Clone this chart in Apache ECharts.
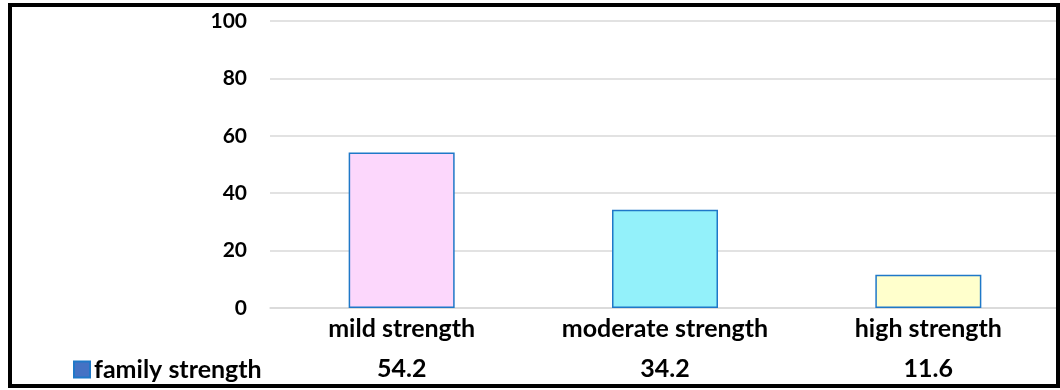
<!DOCTYPE html>
<html>
<head>
<meta charset="utf-8">
<script src="https://cdn.jsdelivr.net/npm/echarts@6/dist/echarts.min.js"></script>
<style>
html,body{margin:0;padding:0;background:#fff;}
#chart{width:1060px;height:390px;}
</style>
</head>
<body>
<div id="chart"></div>
<script>
const categories = ["mild strength", "moderate strength", "high strength"];
const seriesName = "family strength";
const values = [54.2, 34.2, 11.6];
const barColors = ["#FCD7FC", "#93F1FA", "#FFFFCC"];
const yTicks = [0, 20, 40, 60, 80, 100];

const FONT = "Lato";
const chart = echarts.init(document.getElementById('chart'));
chart.setOption({
  animation: false,
  backgroundColor: '#fff',
  textStyle: { fontFamily: FONT },
  grid: { left: 270, right: 0, top: 21, bottom: 82 },
  legend: {
    data: [seriesName],
    left: 73, top: 357, padding: 0,
    icon: 'rect', itemWidth: 16, itemHeight: 16, itemGap: 6,
    textStyle: { fontFamily: FONT, fontWeight: 'bold', fontSize: 25, color: '#000', padding: [0,0,0,-1] }
  },
  xAxis: [{
    type: 'category',
    data: categories,
    axisLine: { show: true, lineStyle: { color: '#d9d9d9', width: 1.5 } },
    axisTick: { show: false },
    axisLabel: { interval: 0, hideOverlap: false, fontFamily: FONT, fontWeight: 'bold', fontSize: 25, color: '#000', margin: 8 }
  }, {
    type: 'category',
    data: categories,
    position: 'bottom',
    offset: 40,
    axisLine: { show: false },
    axisTick: { show: false },
    axisLabel: {
      interval: 0, hideOverlap: false,
      fontFamily: FONT, fontWeight: 'bold', fontSize: 25, color: '#000', margin: 8,
      formatter: function (v, i) { return values[i].toFixed(1); }
    }
  }],
  yAxis: {
    type: 'value', min: yTicks[0], max: yTicks[yTicks.length - 1], interval: 20,
    axisLine: { show: false }, axisTick: { show: false },
    splitLine: { lineStyle: { color: '#d9d9d9', width: 1.5 } },
    axisLabel: { fontFamily: FONT, fontWeight: 'bold', fontSize: 21, color: '#000', margin: 23 }
  },
  series: [{
    name: seriesName,
    type: 'bar',
    xAxisIndex: 0,
    barWidth: 106,
    itemStyle: { color: '#4472C4', borderColor: '#1F78C8', borderWidth: 1.5 },
    data: values.map((v, i) => ({ value: v, itemStyle: { color: barColors[i], borderColor: '#1F78C8' } }))
  }],
  graphic: [{
    type: 'rect', z: 100,
    shape: { x: 10, y: 5, width: 1048, height: 381 },
    style: { fill: 'none', stroke: '#000', lineWidth: 4 }
  }]
});
</script>
</body>
</html>
